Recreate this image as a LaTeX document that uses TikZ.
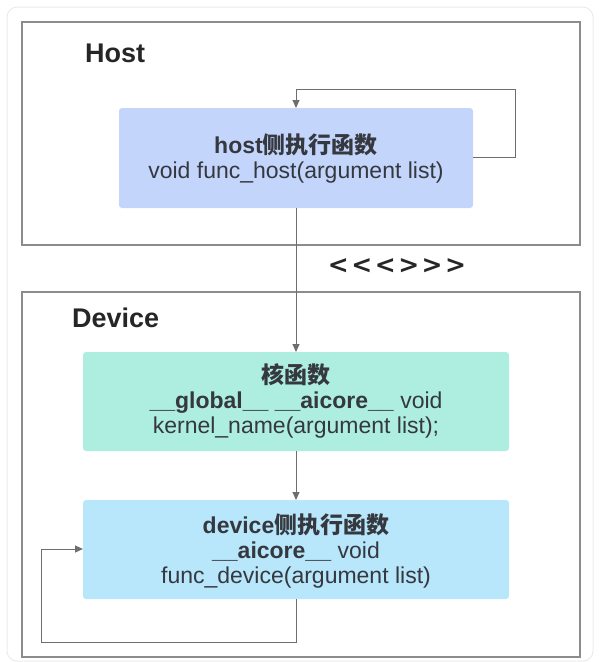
\documentclass[tikz,border=0pt]{standalone}
\usepackage{fontspec}
\setmainfont{Liberation Sans}
\newfontfamily\cjk{Noto Sans CJK SC}
\newfontfamily\symfont{DejaVu Sans}
\usetikzlibrary{arrows.meta}
\definecolor{hostfill}{HTML}{C4D5FC}
\definecolor{kernfill}{HTML}{ADEEE0}
\definecolor{devfill}{HTML}{B8E6FA}
\definecolor{framecol}{HTML}{8C8C8C}
\definecolor{arrcol}{HTML}{6E6E6E}
\definecolor{txt}{HTML}{35383F}
\tikzset{
  frame/.style={draw=framecol, line width=1.2pt},
  fnbox/.style={rounded corners=3pt, text=txt, align=center, font=\fontsize{23}{25}\selectfont},
  conn/.style={draw=arrcol, line width=1pt, -{Triangle[length=8pt,width=7pt]}},
  grp/.style={font=\bfseries\fontsize{27}{30}\selectfont, text=black!85, anchor=west, inner sep=0pt},
}
\begin{document}
\begin{tikzpicture}[x=1pt,y=-1pt]
\useasboundingbox (0,0) rectangle (599,662);
\draw[draw=black!8, line width=1pt, rounded corners=10pt] (7,7) rectangle (593,661);
% groups
\draw[frame] (22,22) rectangle (580,245);
\draw[frame] (22,292) rectangle (580,657);
\node[grp] (hostlbl) at (85,53) {Host};
\node[grp] (devlbl) at (72,318) {Device};
% boxes
\fill[hostfill, rounded corners=3pt] (119,108) rectangle (473,208);
\node[fnbox] (host) at (296,159) {\textbf{host{\cjk 侧执行函数}}\\void func\_host(argument list)};
\fill[kernfill, rounded corners=3pt] (83,352) rectangle (509,451);
\node[fnbox] (kern) at (296,401) {\textbf{\cjk 核函数}\\\textbf{\_\_global\_\_ \_\_aicore\_\_} void\\kernel\_name(argument list);};
\fill[devfill, rounded corners=3pt] (83,500) rectangle (509,599);
\node[fnbox] (dev) at (296,551) {\textbf{device{\cjk 侧执行函数}}\\\textbf{\_\_aicore\_\_} void\\func\_device(argument list)};
\coordinate (hostTop) at (296,108);
\coordinate (hostBot) at (296,208);
\coordinate (hostR) at (473,157);
\coordinate (kernTop) at (296,352);
\coordinate (kernBot) at (296,451);
\coordinate (devTop) at (296,500);
\coordinate (devBot) at (296,599);
\coordinate (devL) at (83,549);
\node[font=\symfont\bfseries\fontsize{25}{28}\selectfont, text=black!85] (launch) at (397,266)
  {\mbox{<}\kern2.5pt\mbox{<}\kern2.5pt\mbox{<}\kern2.5pt\mbox{>}\kern2.5pt\mbox{>}\kern2.5pt\mbox{>}};
% connectors
\draw[conn] (hostR) -- (515,157) -- (515,89) -- (296,89) -- (hostTop);
\draw[conn] (hostBot) -- (kernTop);
\draw[conn] (kernBot) -- (devTop);
\draw[conn] (devBot) -- (296,642) -- (41,642) -- (41,549) -- (devL);
\end{tikzpicture}
\end{document}
